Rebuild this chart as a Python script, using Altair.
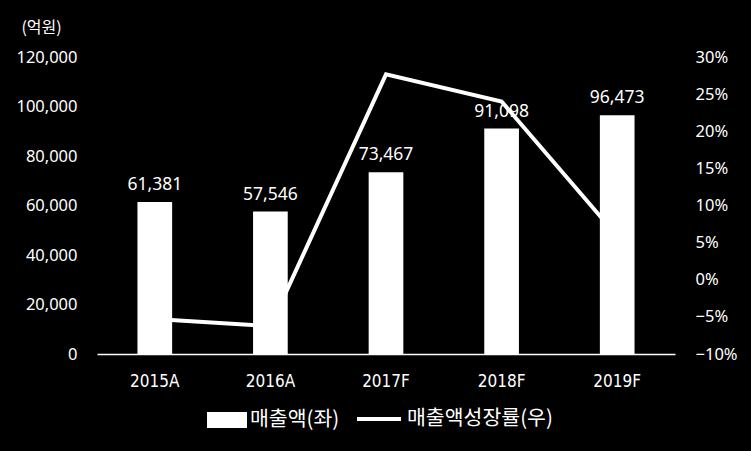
import altair as alt
import pandas as pd

years = ["2015A", "2016A", "2017F", "2018F", "2019F"]
sales = [61381, 57546, 73467, 91098, 96473]
growth = [-0.053, -0.0625, 0.2767, 0.240, 0.059]
bar_name = "매출액(좌)"
line_name = "매출액성장률(우)"

df = pd.DataFrame({
    "year": years,
    "sales": sales,
    "growth": growth,
    "bar_series": [bar_name] * len(years),
    "line_series": [line_name] * len(years),
})

num_font = "Noto Sans"
kr_font = "Noto Sans CJK KR"
cond_font = "Liberation Sans Narrow, DejaVu Sans Condensed, Noto Sans"

x_enc = alt.X(
    "year:N", sort=years, title=None,
    scale=alt.Scale(paddingInner=0.7, paddingOuter=0.35),
    axis=alt.Axis(labelAngle=0, ticks=False, domainColor="white", domainWidth=1.5,
                  labelColor="white", labelFont=cond_font, labelFontSize=17,
                  labelBaseline="middle", labelPadding=27, grid=False),
)

left_scale = alt.Scale(domain=[0, 120000], nice=False)

base = alt.Chart(df)

labels = base.mark_text(color="white", font=num_font, fontSize=17.5, baseline="bottom", dy=-8).encode(
    x=x_enc,
    y=alt.Y("sales:Q", scale=left_scale,
            axis=alt.Axis(orient="left", values=[0, 20000, 40000, 60000, 80000, 100000, 120000],
                          format=",.0f", domain=False, ticks=False, grid=False,
                          labelColor="white", labelFont=num_font, labelFontSize=16.5,
                          labelPadding=20, title="(억원)", titleAngle=0, titleX=-56, titleY=-30,
                          titleAlign="center", titleBaseline="middle", titleColor="white",
                          titleFont=kr_font, titleFontSize=16, titleFontWeight="normal")),
    text=alt.Text("sales:Q", format=",.0f"),
)

line = base.mark_line(strokeWidth=4, strokeJoin="miter").encode(
    x=x_enc,
    y=alt.Y("growth:Q", scale=alt.Scale(domain=[-0.10, 0.30], nice=False),
            axis=alt.Axis(orient="right", values=[-0.10, -0.05, 0, 0.05, 0.10, 0.15, 0.20, 0.25, 0.30],
                          format=".0%", domain=False, ticks=False, grid=False,
                          labelColor="white", labelFont=num_font, labelFontSize=16.5,
                          labelPadding=20, labelAlign="left", title=None)),
    stroke=alt.Stroke("line_series:N", scale=alt.Scale(range=["white"]),
                      legend=alt.Legend(title=None, orient="none", legendX=258, legendY=338,
                                        symbolType="stroke", symbolSize=1936, symbolStrokeWidth=4,
                                        labelColor="white", labelFont=kr_font, labelFontSize=20.5,
                                        labelOffset=4)),
)

bars = base.mark_bar().encode(
    x=x_enc,
    y=alt.Y("sales:Q", scale=left_scale, axis=None),
    fill=alt.Fill("bar_series:N", scale=alt.Scale(range=["white"]),
                  legend=alt.Legend(title=None, orient="none", legendX=110, legendY=343,
                                    symbolType="M-1,-0.4H1V0.4H-1Z", symbolSize=1600,
                                    symbolStrokeWidth=0, symbolFillColor="white",
                                    labelColor="white", labelFont=kr_font, labelFontSize=20.5,
                                    labelOffset=3)),
)

chart = alt.layer(labels, line, bars).resolve_scale(y="independent").properties(
    width=578, height=297,
    padding={"left": 97, "top": 57, "right": 76, "bottom": 97},
    autosize=alt.AutoSizeParams(type="none"),
    background="black",
).configure_view(stroke=None)

chart.save("out.html", embed_options={"renderer": "svg", "actions": False})
